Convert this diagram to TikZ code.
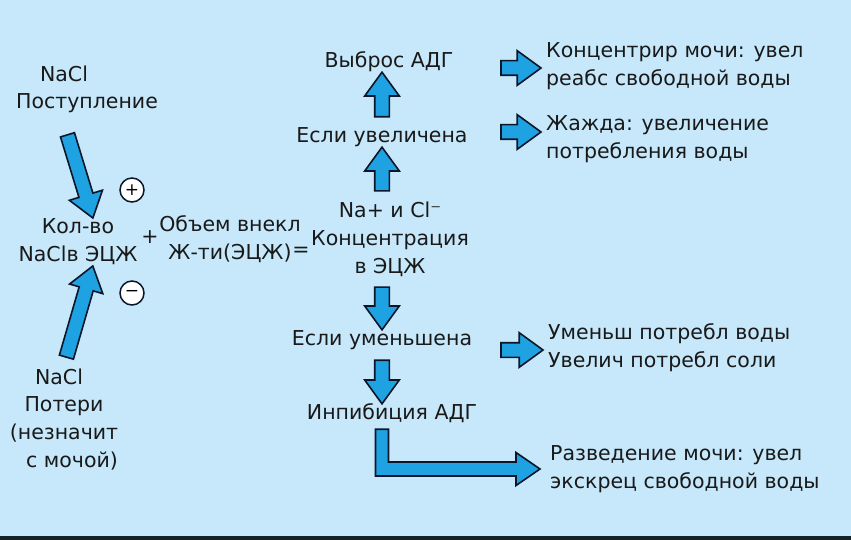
\documentclass[tikz,border=0pt]{standalone}
\usepackage{fontspec}
\setmainfont{DejaVu Sans}
\usetikzlibrary{shapes.arrows,calc}
\definecolor{bgblue}{RGB}{198,232,250}
\definecolor{arrowblue}{RGB}{30,162,226}
\definecolor{arrowedge}{RGB}{12,22,40}
\definecolor{barcol}{RGB}{18,34,40}
\begin{document}
\begin{tikzpicture}[x=1pt,y=-1pt,
  txt/.style={font=\fontsize{20.5}{28}\selectfont, text=black!90, inner xsep=10pt, inner ysep=5.5pt},
  one/.style={txt, text height=15pt, text depth=4pt},
  multi/.style={txt, align=center},
  side/.style={txt, align=left, anchor=west},
  sign/.style={circle, draw=arrowedge, fill=white, line width=1.5pt, inner sep=0pt, minimum size=24pt, font=\fontsize{17}{17}\selectfont},
  barrow/.style={single arrow, draw=arrowedge, fill=arrowblue, line width=1.6pt, inner xsep=0pt, inner ysep=6.5pt,
    single arrow head extend=10pt, single arrow tip angle=72, single arrow head indent=0pt, allow upside down}]
        \useasboundingbox (0,0) rectangle (851,540);
        \fill[bgblue] (0,0) rectangle (851,540);
        \fill[barcol] (0,536) rectangle (851,540);
        % left part
        \node[one] (innacl) at (64,76) {NaCl};
        \node[one] (inpost) at (87,103) {Поступление};
        \node[multi] (kolvo) at (78,242) {Кол-во\\NaClв ЭЦЖ};
        \node[one] (plus) at (150,238) {+};
        \node[multi] (vol) at (230,239) {Объем внекл\\Ж-ти(ЭЦЖ)};
        \node[one] (eq) at (301,251) {=};
        \node[sign] (pluscirc) at (132,190) {+};
        \node[sign] (minuscirc) at (132,293) {−};
        \node[one] (lossnacl) at (59,379) {NaCl};
        \node[multi] (loss) at (64,433) {Потери\\(незначит\\\hspace*{16pt}с мочой)};
        \coordinate (intail) at (66,130);
        \coordinate (losstail) at (65,362);
        % central column
        \node[one] (vybros) at (389,62) {Выброс АДГ};
        \node[one] (esliup) at (382,137) {Если увеличена};
        \node[multi] (conc) at (390,239) {Na+ и Cl⁻\\Концентрация\\в ЭЦЖ};
        \node[one] (eslidn) at (382,340) {Если уменьшена};
        \node[one] (ingib) at (392,414) {Инпибиция АДГ};
        % right column
        \node[side] (mochi) at (536,66) {Концентрир мочи: увел\\реабс свободной воды};
        \node[side] (zhazhda) at (536,139) {Жажда: увеличение\\потребления воды};
        \node[side] (umensh) at (538,348) {Уменьш потребл воды\\Увелич потребл соли};
        \node[side] (razv) at (540,469) {Разведение мочи: увел\\экскрец свободной воды};
        \coordinate (r1) at (496,68);
        \coordinate (r2) at (496,132);
        \coordinate (r3) at (496,350);
        % block arrows
        \foreach \a/\b in {intail/kolvo.65, losstail/kolvo.-65,
            esliup.north/esliup.north |- vybros.south, conc.north -| esliup.south/esliup.south,
            eslidn.north |- conc.south/eslidn.north, eslidn.south/eslidn.south |- ingib.north,
            r1/r1 -| mochi.west, r2/r2 -| zhazhda.west, r3/r3 -| umensh.west}
          \path let \p1=($(\b)-(\a)$), \n1={veclen(\x1,\y1)} in (\a) -- (\b) node[barrow, midway, sloped, minimum height=\n1] {};
        \draw[draw=arrowedge, fill=arrowblue, line width=1.6pt, line join=miter]
          let \p1=(eslidn.south |- ingib.south), \p2=(razv.west) in
          (\x1-6.5pt,\y1) -- (\x1+6.5pt,\y1) -- (\x1+6.5pt,\y2+7pt) -- (\x2-24pt,\y2+7pt) -- (\x2-24pt,\y2+16.5pt)
          -- (\x2,\y2) -- (\x2-24pt,\y2-16.5pt) -- (\x2-24pt,\y2-7pt) -- (\x1-6.5pt,\y2-7pt) -- cycle;
\end{tikzpicture}
\end{document}
